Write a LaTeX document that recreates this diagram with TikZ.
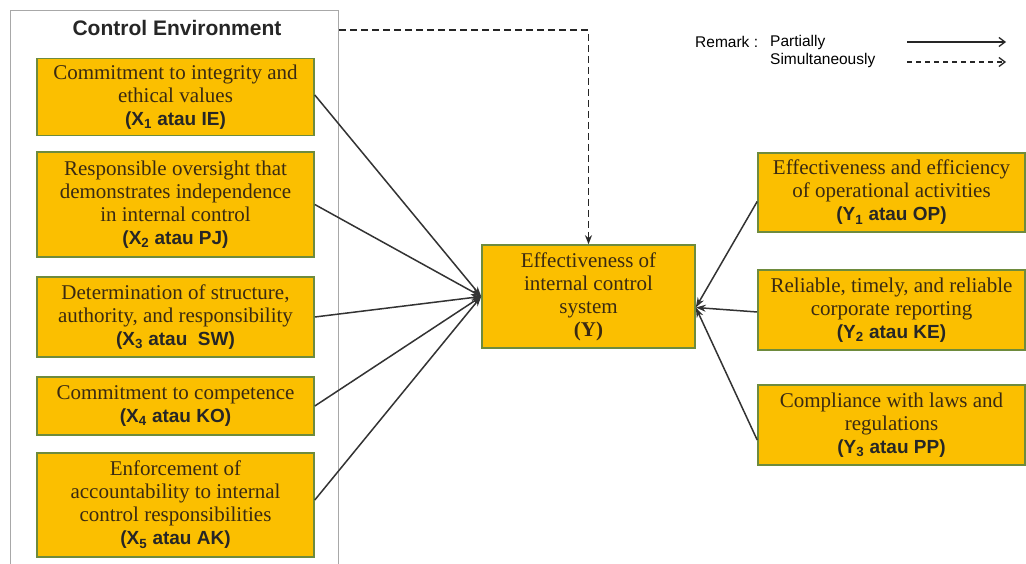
\documentclass[tikz,border=0pt]{standalone}
\usepackage{fontspec}
\setmainfont{Liberation Serif}
\newfontfamily\arialf{Liberation Sans}
\usetikzlibrary{arrows.meta}
\definecolor{boxfill}{HTML}{FBBF00}
\definecolor{boxline}{HTML}{6E8B3D}
\definecolor{txtbrown}{HTML}{3A2A12}
\definecolor{cegray}{HTML}{A8A8A8}
\tikzset{
  ybox/.style={draw=boxline, line width=1.6pt, fill=boxfill, align=center,
    text=txtbrown, font=\fontsize{21}{23}\selectfont, inner sep=1pt},
  conn/.style={draw=black!80, line width=1.5pt, -{Stealth[length=10pt,width=7pt]}},
  dconn/.style={draw=black!85, line width=1.5pt, dash pattern=on 7pt off 4pt, -{Stealth[length=9pt,width=7pt]}},
  legtxt/.style={font=\arialf\fontsize{15.5}{17}\selectfont, anchor=west, inner sep=0pt},
}
\newcommand{\codelbl}[1]{{\arialf\bfseries\fontsize{19}{21}\selectfont\color{black!85}#1}}
\begin{document}
\begin{tikzpicture}[x=1pt,y=-1pt]
\useasboundingbox (0,0) rectangle (1026,564);
\fill[white] (0,0) rectangle (1026,564);
% Control environment frame
\node[draw=cegray, line width=1.4pt, minimum width=328pt, minimum height=570pt, anchor=north west, inner sep=0pt] (ce) at (10,10) {};
\node[font=\arialf\bfseries\fontsize{21}{24}\selectfont, text=black!85] (cetitle) at (177,28) {Control Environment};
% X boxes
\node[ybox, minimum width=277pt, minimum height=77pt] (x1) at (175.5,97) {Commitment to integrity and\\ethical values\\\codelbl{(X\textsubscript{1} atau IE)}};
\node[ybox, minimum width=277pt, minimum height=105pt] (x2) at (175.5,204.5) {Responsible oversight that\\demonstrates independence\\in internal control\\\codelbl{(X\textsubscript{2} atau PJ)}};
\node[ybox, minimum width=277pt, minimum height=80pt] (x3) at (175.5,317) {Determination of structure,\\authority, and responsibility\\\codelbl{(X\textsubscript{3} atau\ \ SW)}};
\node[ybox, minimum width=277pt, minimum height=58pt] (x4) at (175.5,406) {Commitment to competence\\\codelbl{(X\textsubscript{4} atau KO)}};
\node[ybox, minimum width=277pt, minimum height=104pt] (x5) at (175.5,505) {Enforcement of\\accountability to internal\\control responsibilities\\\codelbl{(X\textsubscript{5} atau AK)}};
% Y box
\node[ybox, minimum width=213pt, minimum height=103pt] (y) at (588.5,296.5) {Effectiveness of\\internal control\\system\\{\bfseries (Y)}};
% Y sub boxes
\node[ybox, minimum width=267pt, minimum height=79pt] (y1) at (891.5,192.5) {Effectiveness and efficiency\\of operational activities\\\codelbl{(Y\textsubscript{1} atau OP)}};
\node[ybox, minimum width=267pt, minimum height=80pt] (y2) at (891.5,310) {Reliable, timely, and reliable\\corporate reporting\\\codelbl{(Y\textsubscript{2} atau KE)}};
\node[ybox, minimum width=267pt, minimum height=80pt] (y3) at (891.5,425) {Compliance with laws and\\regulations\\\codelbl{(Y\textsubscript{3} atau PP)}};
% connectors
\coordinate (yin) at (y.west);
\coordinate (yout) at ([yshift=-11pt]y.east);
\draw[conn] ([yshift=2pt]x1.east) -- (yin);
\draw[conn] (x2.east) -- (yin);
\draw[conn] (x3.east) -- (yin);
\draw[conn] (x4.east) -- (yin);
\draw[conn] ([yshift=5pt]x5.east) -- (yin);
\draw[conn] ([yshift=-9pt]y1.west) -- (yout);
\draw[conn] ([yshift=-2pt]y2.west) -- (yout);
\draw[conn] ([yshift=-15pt]y3.west) -- (yout);
\coordinate (dbend) at (y.north |- 0,30);
\draw[dconn] ([yshift=-20pt]ce.north east) -- (dbend) -- (y.north);
% legend
\node[legtxt] (rem) at (695,42) {Remark :};
\node[legtxt] (part) at (770,42) {Partially};
\node[legtxt] (simu) at (770,60) {Simultaneously};
\coordinate (la1) at (907,42);
\coordinate (la2) at (1006,42);
\coordinate (lb1) at (907,62);
\coordinate (lb2) at (1006,62);
\draw[line width=1.3pt, black!85, -{Straight Barb[length=6pt,width=9pt]}] (la1) -- (la2);
\draw[line width=1.3pt, black!85, dash pattern=on 5pt off 4pt, -{Straight Barb[length=6pt,width=9pt]}] (lb1) -- (lb2);
\end{tikzpicture}
\end{document}
